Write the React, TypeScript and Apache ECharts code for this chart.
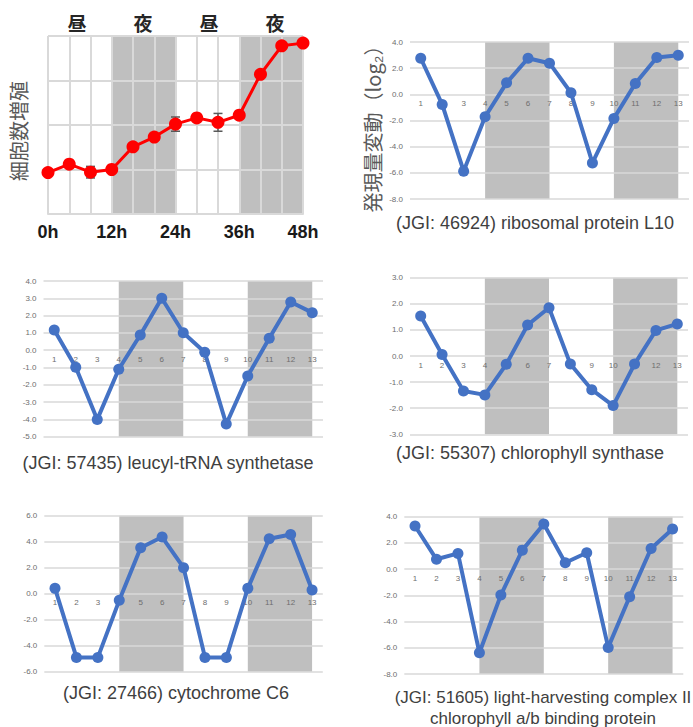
import React, { useEffect, useRef } from 'react';
import * as echarts from 'echarts';

// ---- data ----
const growthHours = [0, 4, 8, 12, 16, 20, 24, 28, 32, 36, 40, 44, 48];
const growthValues = [0.93, 1.12, 0.94, 1.0, 1.51, 1.73, 2.02, 2.16, 2.06, 2.22, 3.14, 3.78, 3.84];
const growthErrors = [0.03, 0.03, 0.13, 0.03, 0.06, 0.05, 0.16, 0.05, 0.2, 0.03, 0.02, 0.02, 0.02];
const growthTickLabels = ['0h', '12h', '24h', '36h', '48h'];
const periodLabels = ['昼', '夜', '昼', '夜'];
const growthTitle = '細胞数増殖';
const expressionTitle = '発現量変動（log₂）';

const samplePoints = ['1', '2', '3', '4', '5', '6', '7', '8', '9', '10', '11', '12', '13'];
const ribosomalL10 = [2.76, -0.77, -5.87, -1.71, 0.88, 2.76, 2.38, 0.12, -5.24, -1.84, 0.83, 2.81, 2.99];
const leucylTRNA = [1.17, -0.99, -4.0, -1.1, 0.88, 3.0, 1.01, -0.12, -4.27, -1.49, 0.69, 2.79, 2.17];
const chlorophyllSynthase = [1.53, 0.06, -1.34, -1.49, -0.32, 1.19, 1.85, -0.31, -1.29, -1.9, -0.31, 0.98, 1.23];
const cytochromeC6 = [0.41, -4.9, -4.9, -0.51, 3.54, 4.36, 2.0, -4.9, -4.9, 0.41, 4.23, 4.56, 0.28];
const lhcII = [3.29, 0.75, 1.2, -6.38, -1.98, 1.45, 3.44, 0.49, 1.25, -5.97, -2.11, 1.58, 3.06];

const captions = [
  ['(JGI: 46924) ribosomal protein L10'],
  ['(JGI: 57435) leucyl-tRNA synthetase'],
  ['(JGI: 55307) chlorophyll synthase'],
  ['(JGI: 27466) cytochrome C6'],
  ['(JGI: 51605) light-harvesting complex II', 'chlorophyll a/b binding protein'],
];
const nightRanges = [['4', '7'], ['10', '13']];

const LATIN = '"Liberation Sans", Arial, sans-serif';
const CJK = '"Noto Sans CJK JP", sans-serif';

const panels = [
  { values: ribosomalL10, min: -8, max: 4, interval: 2, grid: { left: 410, top: 42, width: 279, height: 157 }, cap: [535, 223], capSize: 18 },
  { values: leucylTRNA, min: -5, max: 4, interval: 1, grid: { left: 43.5, top: 281, width: 279.5, height: 155.7 }, cap: [168, 463], capSize: 18 },
  { values: chlorophyllSynthase, min: -3, max: 3, interval: 1, grid: { left: 410, top: 277.7, width: 278, height: 156.6 }, cap: [530, 453], capSize: 18 },
  { values: cytochromeC6, min: -6, max: 6, interval: 2, grid: { left: 44.3, top: 515.7, width: 278.5, height: 156 }, cap: [176, 693], capSize: 18 },
  { values: lhcII, min: -8, max: 4, interval: 2, grid: { left: 404.3, top: 516.7, width: 279, height: 157.3 }, cap: [543, 697], capSize: 17 },
];

function buildOption() {
  const grids: any[] = [{ left: 48, top: 36, width: 255, height: 178, outerBoundsMode: 'none' }];
  const xAxes: any[] = [
    {
      type: 'value', gridIndex: 0, min: 0, max: 48, interval: 4, z: 1.5,
      axisLine: { show: true, lineStyle: { color: '#d9d9d9', width: 2 } },
      axisTick: { show: false },
      splitLine: { show: true, lineStyle: { color: '#d9d9d9', width: 2 } },
      axisLabel: {
        margin: 9, fontSize: 18, fontWeight: 'bold', color: '#1a1a1a', fontFamily: LATIN,
        formatter: (v: number) => (v % 12 === 0 ? growthTickLabels[v / 12] : ''),
      },
    },
  ];
  const yAxes: any[] = [
    {
      type: 'value', gridIndex: 0, min: 0, max: 4, interval: 1, z: 1.5,
      axisLine: { show: false }, axisTick: { show: false }, axisLabel: { show: false },
      splitLine: { show: true, lineStyle: { color: '#d9d9d9', width: 2 } },
    },
  ];
  const series: any[] = [
    {
      type: 'line', xAxisIndex: 0, yAxisIndex: 0, data: [], z: 1, silent: true,
      markArea: {
        silent: true, itemStyle: { color: '#bfbfbf' },
        data: [[{ xAxis: 12 }, { xAxis: 24 }], [{ xAxis: 36 }, { xAxis: 48 }]],
      },
    },
    {
      type: 'custom', xAxisIndex: 0, yAxisIndex: 0, z: 2,
      encode: { x: 0, y: 1 },
      data: growthHours.map((h, i) => [h, growthValues[i], growthErrors[i]]),
      renderItem: (params: any, api: any) => {
        const x = api.value(0), y = api.value(1), e = api.value(2);
        const t = api.coord([x, y + e]);
        const b = api.coord([x, y - e]);
        const w = 4.5;
        const st = { stroke: '#595959', lineWidth: 1.5 };
        return {
          type: 'group',
          children: [
            { type: 'line', shape: { x1: t[0], y1: t[1], x2: b[0], y2: b[1] }, style: st },
            { type: 'line', shape: { x1: t[0] - w, y1: t[1], x2: t[0] + w, y2: t[1] }, style: st },
            { type: 'line', shape: { x1: b[0] - w, y1: b[1], x2: b[0] + w, y2: b[1] }, style: st },
          ],
        };
      },
    },
    {
      type: 'line', xAxisIndex: 0, yAxisIndex: 0, z: 3,
      data: growthHours.map((h, i) => [h, growthValues[i]]),
      lineStyle: { color: '#ff0000', width: 3 },
      itemStyle: { color: '#ff0000' },
      symbol: 'circle', symbolSize: 13, showSymbol: true,
    },
  ];

  panels.forEach((p, k) => {
    const gi = k + 1;
    grids.push({ ...p.grid, outerBoundsMode: 'none' });
    // place the category axis at the zero level of the value axis
    const zeroOffset = -p.grid.height * (0 - p.min) / (p.max - p.min);
    xAxes.push({
      type: 'category', gridIndex: gi, data: samplePoints, boundaryGap: true, z: 1.5,
      position: 'bottom', offset: zeroOffset,
      axisLine: { show: false, onZero: false },
      axisTick: { show: false },
      splitLine: { show: false },
      axisLabel: { margin: 5, fontSize: 8, color: '#6e6e6e', fontFamily: LATIN, interval: 0 },
    });
    yAxes.push({
      type: 'value', gridIndex: gi, min: p.min, max: p.max, interval: p.interval, z: 1.5,
      axisLine: { show: false }, axisTick: { show: false },
      splitLine: { show: true, lineStyle: { color: '#d9d9d9', width: 1.5 } },
      axisLabel: { margin: 7, fontSize: 8, color: '#6e6e6e', fontFamily: LATIN, formatter: (v: number) => v.toFixed(1) },
    });
    series.push({
      type: 'line', xAxisIndex: gi, yAxisIndex: gi, data: [], z: 1, silent: true,
      markArea: {
        silent: true, itemStyle: { color: '#bfbfbf' },
        data: nightRanges.map((r) => [{ xAxis: r[0] }, { xAxis: r[1] }]),
      },
    });
    series.push({
      type: 'line', xAxisIndex: gi, yAxisIndex: gi, z: 3, data: p.values,
      lineStyle: { color: '#4472c4', width: 4 },
      itemStyle: { color: '#4472c4' },
      symbol: 'circle', symbolSize: 11, showSymbol: true,
    });
  });

  const graphic: any[] = [];
  const periodX = [77, 143, 209, 275];
  periodLabels.forEach((t, i) => {
    graphic.push({
      type: 'text', x: periodX[i], y: 22,
      style: { text: t, fontSize: 19, fontWeight: 'bold', fontFamily: CJK, fill: '#262626', align: 'center', verticalAlign: 'middle' },
    });
  });
  graphic.push({
    type: 'text', x: 18, y: 131, rotation: Math.PI / 2,
    style: { text: growthTitle, fontSize: 20, fontFamily: CJK, fill: '#595959', align: 'center', verticalAlign: 'middle' },
  });
  graphic.push({
    type: 'text', x: 372, y: 124, rotation: Math.PI / 2,
    style: { text: expressionTitle, fontSize: 20, fontFamily: CJK, fill: '#595959', align: 'center', verticalAlign: 'middle' },
  });
  panels.forEach((p, k) => {
    captions[k].forEach((line, j) => {
      graphic.push({
        type: 'text', x: p.cap[0], y: p.cap[1] + j * 21,
        style: { text: line, fontSize: p.capSize, fontFamily: LATIN, fill: '#404040', align: 'center', verticalAlign: 'middle' },
      });
    });
  });

  return {
    animation: false,
    backgroundColor: '#ffffff',
    grid: grids,
    xAxis: xAxes,
    yAxis: yAxes,
    series,
    graphic,
  };
}

export default function App() {
  const ref = useRef<HTMLDivElement>(null);
  useEffect(() => {
    if (!ref.current) return;
    const chart = echarts.init(ref.current, undefined, { renderer: 'svg' });
    chart.setOption(buildOption() as any);
    return () => chart.dispose();
  }, []);
  return (
    <div
      ref={ref}
      style={{ position: 'absolute', left: 0, top: 0, width: 693, height: 727, background: '#fff' }}
    />
  );
}
